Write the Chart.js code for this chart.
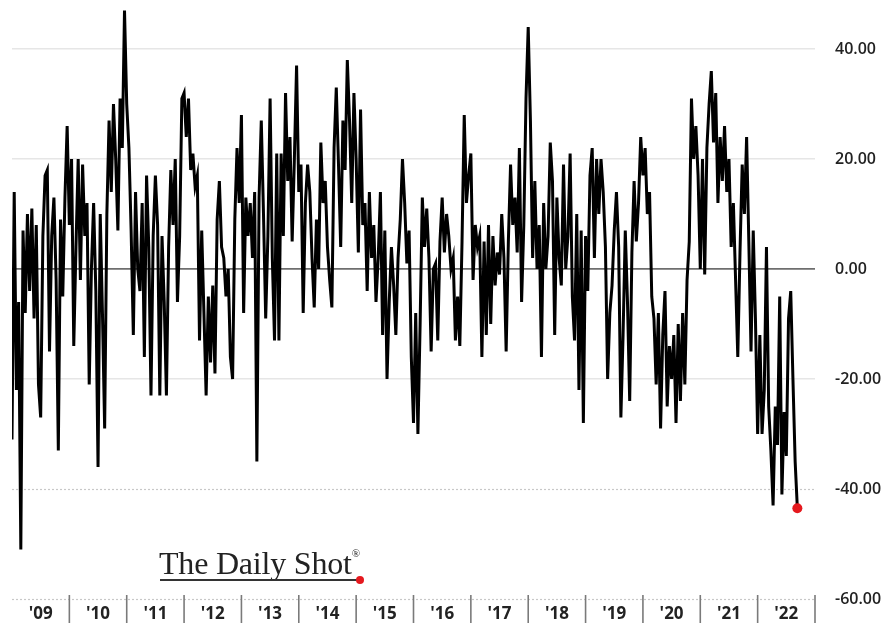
<!DOCTYPE html>
<html>
<head>
<meta charset="utf-8">
<script src="https://cdn.jsdelivr.net/npm/chart.js@4.4.1/dist/chart.umd.min.js"></script>
<style>
  body { margin: 0; background: #fff; }
  #wrap { position: relative; width: 890px; height: 628px; }
  #logo {
    position: absolute; left: 159px; top: 547px;
    font-family: "Liberation Serif", "DejaVu Serif", serif;
    font-size: 32px; color: #222; letter-spacing: -0.2px; line-height: 1;
  }
  #logo sup { font-size: 11px; position: relative; top: -5px; letter-spacing: 0; }
  #logoLine { position: absolute; left: 160px; top: 579px; width: 198px; height: 2px; background: #333; }
  #logoDot { position: absolute; left: 356px; top: 576px; width: 8px; height: 8px; border-radius: 50%; background: #e5191e; }
</style>
</head>
<body>
<div id="wrap">
  <canvas id="grafico"></canvas>
  <div id="logo">The Daily Shot<sup>®</sup></div>
  <div id="logoLine"></div>
  <div id="logoDot"></div>
</div>
<script>
// anos do eixo x
var anos = [2009, 2010, 2011, 2012, 2013, 2014, 2015, 2016, 2017, 2018, 2019, 2020, 2021, 2022];
var pontosPorAno = 26; // leituras a cada duas semanas

// valores (quinzenal)
var v2009 = [-31, 14, -22, -6, -51, 7, -8, 10, -4, 11, -9, 8, -21, -27, 6, 17, 18, -15, 6, 13, -2, -33, 9, -5, 13, 26];
var v2010 = [8, 20, -14, 4, 20, -2, 19, 6, 12, -21, 0, 12, -4, -36, 10, -8, -29, 10, 27, 14, 30, 20, 7, 31, 22, 47];
var v2011 = [30, 22, 7, -12, 14, 0, -4, 12, -16, 17, 4, -23, 6, 17, 8, -23, 6, -6, -23, 4, 18, 8, 20, -6, 6, 31];
var v2012 = [32, 24, 31, 18, 21, 15, 17, -13, 7, -8, -23, -5, -17, -3, -19, 9, 16, 4, 2, -5, 0, -16, -20, 9, 22, 12];
var v2013 = [28, -8, 13, 6, 12, 2, 14, -35, 13, 27, 10, -9, 6, 31, 2, -13, 21, -13, 21, 6, 32, 16, 24, 5, 20, 37];
var v2014 = [14, 19, -8, 12, 19, 14, 2, -7, 9, 0, 23, 12, 16, 4, -2, -7, 22, 33, 19, 4, 27, 18, 38, 27, 12, 32];
var v2015 = [20, 3, 29, 8, 12, -4, 14, 2, 8, -6, 2, 14, -12, 7, -20, -6, 4, -3, -12, 2, 9, 20, 12, 1, 7, -16];
var v2016 = [-28, -8, -30, -10, 13, 4, 11, 2, -15, 0, 1, -13, 5, 13, 3, 10, 6, 0, 2, -13, -5, -14, 5, 28, 12, 17];
var v2017 = [21, -2, 8, 4, 6, -16, 5, -12, 8, -10, 6, -3, 3, -1, 10, 2, -15, 5, 19, 8, 13, 3, 22, -6, 8, 31];
var v2018 = [44, 27, 2, 16, 0, 8, -16, 12, 0, 6, 23, 16, -12, 13, 2, -3, 19, 0, 6, 21, -5, -13, 10, -22, 7, -28];
var v2019 = [6, -4, 17, 22, 2, 20, 10, 20, 14, 4, -20, -8, -3, 7, 14, 4, -27, -12, 7, -6, -24, 3, 16, 5, 12, 24];
var v2020 = [17, 22, 10, 14, -5, -9, -21, -8, -29, -12, -4, -25, -14, -20, -12, -28, -10, -24, -8, -21, -2, 5, 31, 20, 26, 17];
var v2021 = [0, 20, -1, 22, 30, 36, 23, 32, 12, 24, 16, 26, 14, 20, 4, 12, -2, -16, 3, 19, 10, 24, 5, -15, 7, -9];
var v2022 = [-30, -12, -30, -22, 4, -25, -33, -43, -25, -32, -5, -41, -26, -34, -9, -4, -20, -35, -43.5];

var valoresPorAno = [v2009, v2010, v2011, v2012, v2013, v2014, v2015, v2016, v2017, v2018, v2019, v2020, v2021, v2022];

// ticks do eixo y
var ticksY = [-60, -40, -20, 0, 20, 40];
var linhasPontilhadas = [-40, -60];

// monta a serie (x = ano fracionado)
var serie = [];
for (let a = 0; a < anos.length; a++) {
    let vals = valoresPorAno[a];
    for (let i = 0; i < vals.length; i++) {
        serie.push({ x: anos[a] + i / pontosPorAno, y: vals[i] });
    }
}
var ultimo = serie.length - 1;

// separadores entre os anos e linhas pontilhadas
const extras = {
    id: 'extras',
    beforeDatasetsDraw(chart) {
        const c = chart.ctx, area = chart.chartArea, y = chart.scales.y;
        c.save();
        c.strokeStyle = '#c8c8c8';
        c.lineWidth = 1.2;
        c.setLineDash([2, 2]);
        linhasPontilhadas.forEach(function (v) {
            let py = Math.round(y.getPixelForValue(v)) + 0.5;
            c.beginPath();
            c.moveTo(area.left, py);
            c.lineTo(area.right, py);
            c.stroke();
        });
        c.restore();
    },
    afterDraw(chart) {
        const c = chart.ctx, area = chart.chartArea, x = chart.scales.x;
        c.save();
        c.strokeStyle = '#7a7a7a';
        c.lineWidth = 1.6;
        for (let a = anos[0] + 1; a <= anos[anos.length - 1] + 1; a++) {
            let px = x.getPixelForValue(a);
            c.beginPath();
            c.moveTo(px, area.bottom - 4);
            c.lineTo(px, area.bottom + 24);
            c.stroke();
        }
        c.restore();
    }
};

const ctx = document.getElementById('grafico');

new Chart(ctx, {
    type: 'line',
    data: {
        datasets: [{
            data: serie,
            borderColor: '#000',
            borderWidth: 3,
            borderJoinStyle: 'miter',
            tension: 0,
            pointRadius: function (c) { return c.dataIndex === ultimo ? 5 : 0; },
            pointBackgroundColor: '#e5191e',
            pointBorderWidth: 0
        }]
    },
    options: {
        responsive: true,
        maintainAspectRatio: false,
        animation: false,
        layout: { padding: { left: 12, top: 5, right: 0, bottom: 0 } },
        plugins: { legend: { display: false }, tooltip: { enabled: false } },
        scales: {
            x: {
                type: 'linear',
                min: anos[0],
                max: anos[anos.length - 1] + 1,
                afterBuildTicks: function (scale) {
                    scale.ticks = anos.map(function (a) { return { value: a + 0.5 }; });
                },
                afterFit: function (scale) {
                    scale.height = 29;
                    scale.paddingLeft = 0;
                    scale.paddingRight = 0;
                },
                grid: { display: false, drawTicks: false },
                border: { display: false },
                ticks: {
                    maxRotation: 0,
                    autoSkip: false,
                    padding: 5,
                    color: '#222',
                    font: { family: 'Open Sans', size: 17, weight: '700' },
                    callback: function (v) { return "'" + String(Math.floor(v)).slice(2); }
                }
            },
            y: {
                position: 'right',
                min: -60,
                max: 48,
                afterBuildTicks: function (scale) {
                    scale.ticks = ticksY.map(function (v) { return { value: v }; });
                },
                afterFit: function (scale) {
                    scale.width = 75;
                    scale.paddingTop = 0;
                    scale.paddingBottom = 0;
                },
                grid: {
                    drawTicks: false,
                    lineWidth: function (c) { return c.tick.value === 0 ? 1.8 : 1.4; },
                    color: function (c) {
                        if (c.tick.value === 0) return '#6e6e6e';
                        if (linhasPontilhadas.indexOf(c.tick.value) >= 0) return 'rgba(0,0,0,0)';
                        return '#e6e6e6';
                    }
                },
                border: { display: false },
                ticks: {
                    padding: 20,
                    color: '#222',
                    font: { family: 'Open Sans', size: 16, weight: '600' },
                    callback: function (v) { return v.toFixed(2); }
                }
            }
        }
    },
    plugins: [extras]
});
</script>
</body>
</html>
